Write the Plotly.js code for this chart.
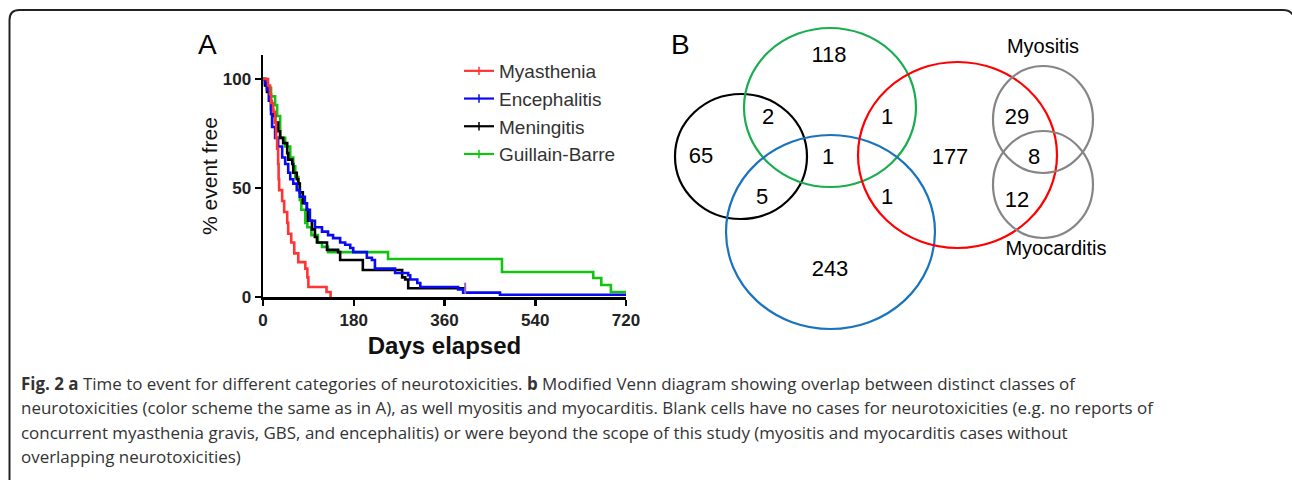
<!DOCTYPE html>
<html><head><meta charset="utf-8">
<script src="https://cdn.plot.ly/plotly-3.0.1.min.js"></script>
<style>html,body{margin:0;padding:0;background:#fff}#chart{width:1292px;height:480px}</style>
</head><body><div id="chart"></div>
<script>
// ---------- Panel A data (Kaplan-Meier, % event free vs days) ----------
const seriesNames = ['Myasthenia', 'Encephalitis', 'Meningitis', 'Guillain-Barre'];

const myastheniaDays = [0, 10, 14, 16, 20, 24, 26, 28, 30, 31, 32, 38, 42, 48, 50, 56, 62, 70, 84, 88, 90, 126, 134];
const myastheniaPct  = [100, 97, 93, 89, 85, 80, 73, 68, 61, 54, 49, 44, 39, 34, 29, 25, 20, 16, 13, 9, 4.6, 2.3, 0];

const encephalitisDays = [0, 4, 8, 12, 16, 18, 24, 30, 38, 44, 50, 54, 60, 67, 73, 83, 87, 93, 103, 117, 129, 139, 153, 163, 173, 179, 206, 216, 222, 262, 288, 292, 306, 312, 387, 397, 470, 720];
const encephalitisPct  = [100, 98, 95, 90, 84, 78, 73, 69, 64, 61, 57, 54, 52, 49, 46, 43, 40, 35, 32, 30, 28.4, 27, 25, 24, 22.5, 20.6, 18, 17, 13, 11, 10, 8, 6.4, 4.6, 3.5, 2, 1, 1];

const meningitisDays = [0, 4, 8, 12, 16, 20, 24, 30, 34, 40, 48, 50, 58, 60, 67, 70, 73, 79, 87, 89, 97, 103, 107, 127, 149, 153, 198, 276, 282, 288, 401];
const meningitisPct  = [100, 97, 94, 90, 86, 83, 80, 76, 73, 70.6, 66, 63, 61, 57, 54, 52, 48, 43, 40, 35, 31, 27.5, 25, 21.6, 20.6, 17, 12.4, 9, 8, 4, 4];

const gbsDays = [0, 8, 16, 24, 28, 34, 44, 54, 60, 64, 70, 73, 76, 84, 88, 96, 109, 117, 129, 248, 474, 655, 671, 690, 720];
const gbsPct  = [100, 96, 92, 88, 83, 73, 69, 64, 60, 55, 52, 44.5, 40, 34, 32, 28.4, 25, 23, 20.6, 17.4, 11.5, 8.7, 5.5, 2.3, 2.3];

const censorDays = [401];
const censorPct  = [4];

const xTicks = [0, 180, 360, 540, 720];
const yTicks = [0, 50, 100];

// ---------- Panel B data (Venn counts) ----------
const vennSetNames = ['Meningitis', 'Guillain-Barre', 'Encephalitis', 'Myasthenia', 'Myositis', 'Myocarditis'];
const vennCounts   = ['118', '2', '1', '65', '1', '177', '5', '1', '243', '29', '8', '12'];
const vennOuterLabels = ['Myositis', 'Myocarditis'];

// ---------- layout / styling ----------
const W = 1292, H = 480;
const px = x => x / W, py = y => 1 - y / H;
const FONT = 'Liberation Sans, Arial, sans-serif';
const kmColors = {Myasthenia: '#ff3434', Encephalitis: '#0a0af0', Meningitis: '#000000', 'Guillain-Barre': '#12c312'};
// ellipse boxes [x0, y0, x1, y1] in page pixels for each venn set
const vennGeom = {
  'Meningitis':     {box: [675, 94, 807, 219], color: '#000000'},
  'Guillain-Barre': {box: [744, 28, 916, 187], color: '#1aad50'},
  'Encephalitis':   {box: [726, 135, 935, 329], color: '#1a73bd'},
  'Myasthenia':     {box: [858, 62, 1057, 248], color: '#ff0000'},
  'Myositis':       {box: [993, 66, 1093, 173], color: '#858585'},
  'Myocarditis':    {box: [993, 131, 1093, 238], color: '#858585'}
};
const vennCountPos = [[829, 56], [768, 118], [887, 118], [701, 157], [828, 158], [950, 158], [762, 198], [887, 198], [830, 270], [1017, 118], [1034, 158], [1017, 201]];
const vennOuterPos = [[1043, 48], [1056, 250]];

const kmData = [
  ['Guillain-Barre', gbsDays, gbsPct],
  ['Meningitis', meningitisDays, meningitisPct],
  ['Encephalitis', encephalitisDays, encephalitisPct],
  ['Myasthenia', myastheniaDays, myastheniaPct]
];

const traces = [];
kmData.forEach(([name, xs, ys]) => {
  traces.push({x: xs, y: ys, type: 'scatter', mode: 'lines', line: {shape: 'hv', color: kmColors[name], width: 2.6},
    showlegend: false, hoverinfo: 'skip', xaxis: 'x', yaxis: 'y'});
});
traces.push({x: censorDays, y: censorPct, type: 'scatter', mode: 'markers', showlegend: false,
  marker: {symbol: 'line-ns-open', size: 8, line: {color: '#000', width: 2}}, xaxis: 'x', yaxis: 'y', cliponaxis: false});
// legend entries
seriesNames.forEach((name, i) => {
  traces.push({x: [null], y: [null], type: 'scatter', mode: 'lines+markers', name: name, legendgroup: 'g' + i,
    line: {color: kmColors[name], width: 2.2}, marker: {symbol: 'line-ns-open', size: 6, line: {color: '#000', width: 1.5}},
    xaxis: 'x', yaxis: 'y'});
});
// venn count labels
traces.push({x: vennCountPos.map(p => p[0]), y: vennCountPos.map(p => p[1]), text: vennCounts, type: 'scatter', mode: 'text',
  textfont: {family: FONT, size: 22, color: '#000'}, showlegend: false, hoverinfo: 'skip',
  xaxis: 'x2', yaxis: 'y2', cliponaxis: false});
traces.push({x: vennOuterPos.map(p => p[0]), y: vennOuterPos.map(p => p[1]), text: vennOuterLabels, type: 'scatter', mode: 'text',
  textfont: {family: FONT, size: 20, color: '#000'}, showlegend: false, hoverinfo: 'skip',
  xaxis: 'x2', yaxis: 'y2', cliponaxis: false});

const shapes = vennSetNames.map(n => {
  const g = vennGeom[n];
  return {type: 'circle', xref: 'x2', yref: 'y2', x0: g.box[0], y0: g.box[1], x1: g.box[2], y1: g.box[3],
    line: {color: g.color, width: 2.2}, fillcolor: 'rgba(0,0,0,0)', layer: 'above'};
});
// outer frame (rounded, bottom open)
shapes.push({type: 'path', xref: 'x2', yref: 'y2', path: 'M 9.5 480 L 9.5 20 Q 9.5 10 19.5 10 L 1283 10 Q 1290 10 1293 15',
  line: {color: '#222', width: 2}});

const capFont = {family: 'Open Sans, sans-serif', size: 16.95, color: '#333'};
const captionLines = [
  '<b>Fig. 2 a</b> Time to event for different categories of neurotoxicities. <b>b</b> Modified Venn diagram showing overlap between distinct classes of',
  'neurotoxicities (color scheme the same as in A), as well myositis and myocarditis. Blank cells have no cases for neurotoxicities (e.g. no reports of',
  'concurrent myasthenia gravis, GBS, and encephalitis) or were beyond the scope of this study (myositis and myocarditis cases without',
  'overlapping neurotoxicities)'
];
const captionY = [383, 407, 432, 456];
const annotations = captionLines.map((t, i) => ({text: t, xref: 'paper', yref: 'paper', x: px(19), y: py(captionY[i]),
  xanchor: 'left', yanchor: 'middle', showarrow: false, font: capFont}));
annotations.push({text: 'A', xref: 'paper', yref: 'paper', x: px(207), y: py(44), xanchor: 'center', yanchor: 'middle', showarrow: false,
  font: {family: FONT, size: 28, color: '#000'}});
annotations.push({text: 'B', xref: 'paper', yref: 'paper', x: px(680), y: py(44), xanchor: 'center', yanchor: 'middle', showarrow: false,
  font: {family: FONT, size: 28, color: '#000'}});

const tickFont = {family: FONT, size: 17, color: '#222', weight: 'bold'};
const layout = {
  width: W, height: H, margin: {l: 0, r: 0, t: 0, b: 0}, paper_bgcolor: '#fff', plot_bgcolor: 'rgba(0,0,0,0)',
  showlegend: true,
  legend: {x: px(459), y: py(52), xanchor: 'left', yanchor: 'top', bgcolor: 'rgba(0,0,0,0)', tracegroupgap: 0,
    font: {family: FONT, size: 19, color: '#333'}},
  xaxis: {domain: [px(263), px(626)], range: [0, 720], tickvals: xTicks, ticktext: xTicks.map(String), showline: true, linewidth: 2.5,
    linecolor: '#000', ticks: 'outside', ticklen: 6, tickwidth: 2.5, tickcolor: '#000', showgrid: false, zeroline: false, tickfont: tickFont,
    anchor: 'y', title: {text: 'Days elapsed', font: {family: FONT, size: 24, color: '#111', weight: 'bold'}, standoff: 9}},
  yaxis: {domain: [py(297), py(55)], range: [0, 111], tickvals: yTicks, ticktext: yTicks.map(String), showline: true, linewidth: 2.5,
    linecolor: '#000', ticks: 'outside', ticklen: 6, tickwidth: 2.5, tickcolor: '#000', showgrid: false, zeroline: false, tickfont: tickFont,
    anchor: 'x', title: {text: '% event free', font: {family: FONT, size: 21, color: '#111'}, standoff: 0}},
  xaxis2: {domain: [0, 1], range: [0, W], visible: false, anchor: 'y2', fixedrange: true},
  yaxis2: {domain: [0, 1], range: [H, 0], visible: false, anchor: 'x2', fixedrange: true},
  shapes: shapes, annotations: annotations
};
Plotly.newPlot('chart', traces, layout, {staticPlot: true});
</script></body></html>
